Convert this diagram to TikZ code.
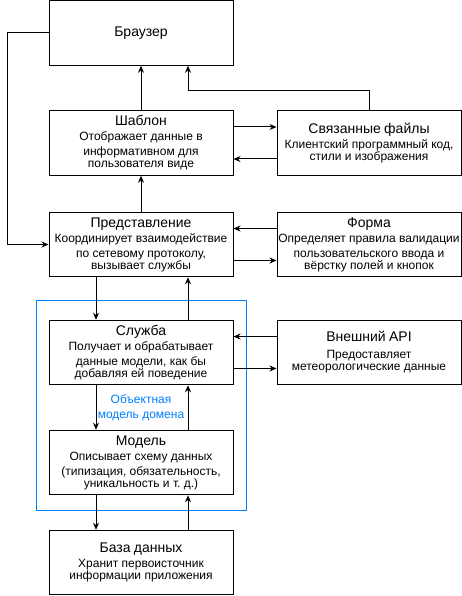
\documentclass[tikz,border=0pt]{standalone}
\usepackage{fontspec}
\setmainfont{Liberation Sans}
\usetikzlibrary{arrows.meta}
\usetikzlibrary{calc}

\newcommand{\boxtitle}{\fontsize{14}{16}\selectfont}
\newcommand{\boxdesc}{\fontsize{12}{15}\selectfont}

\begin{document}
\begin{tikzpicture}[x=1pt,y=-1pt,
        block/.style={draw,line width=1pt,minimum width=184pt,minimum height=64.5pt,
            text width=182pt,align=center,inner sep=1pt},
        arr/.style={line width=1pt,-{Stealth[length=7pt,width=6pt]}},
        domainbox/.style={draw=domainblue,line width=1pt}]
                \definecolor{domainblue}{RGB}{0,127,255}
                \useasboundingbox (0,0) rectangle (462,596);

                \draw[domainbox] (36,300) rectangle (246,510);

                \node[block] (browser) at (141,33) {\boxtitle Браузер};
                \node[block] (tmpl) at (141,143) {\boxtitle Шаблон\\
                    \boxdesc Отображает данные в\\ информативном для\\ пользователя виде};
                \node[block] (files) at (369,143) {\boxtitle Связанные файлы\\
                    \boxdesc Клиентский программный код,\\ стили и изображения};
                \node[block] (view) at (141,244.5) {\boxtitle Представление\\
                    \boxdesc Координирует взаимодействие\\ по сетевому протоколу,\\ вызывает службы};
                \node[block] (form) at (369,244.5) {\boxtitle Форма\\
                    \boxdesc Определяет правила валидации\\ пользовательского ввода и\\ вёрстку полей и кнопок};
                \node[block] (service) at (141,352.5) {\boxtitle Служба\\
                    \boxdesc Получает и обрабатывает\\ данные модели, как бы\\ добавляя ей поведение};
                \node[block] (api) at (369,352.5) {\boxtitle Внешний API\\[2pt]
                    \boxdesc Предоставляет\\ метеорологические данные};
                \node[block] (model) at (141,462.5) {\boxtitle Модель\\
                    \boxdesc Описывает схему данных\\ (типизация, обязательность,\\ уникальность и т.~д.)};
                \node[block] (db) at (141,562.5) {\boxtitle База данных\\
                    \boxdesc Хранит первоисточник\\ информации приложения};

                \node[text=domainblue,align=center,font=\boxdesc] (domain)
                    at ($(service.south)!0.5!(model.north)$) {Объектная\\ модель домена};

                % to the browser
                \draw[arr] (tmpl.north) -- (browser.south);
                \draw[arr] (files.north) |- ([xshift=47pt,yshift=-25pt]browser.south)
                    -- ([xshift=47pt]browser.south);
                \draw[arr] (browser.west) -- ++(-41pt,0pt) |- (view.west);

                % left column, up and down
                \draw[arr] (view.north) -- (tmpl.south);
                \draw[arr] ([xshift=-45pt]view.south) -- ([xshift=-45pt]service.north);
                \draw[arr] ([xshift=47pt]service.north) -- ([xshift=47pt]view.south);
                \draw[arr] ([xshift=-45pt]service.south) -- ([xshift=-45pt]model.north);
                \draw[arr] ([xshift=47pt]model.north) -- ([xshift=47pt]service.south);
                \draw[arr] ([xshift=-45pt]model.south) -- ([xshift=-45pt]db.north);
                \draw[arr] ([xshift=47pt]db.north) -- ([xshift=47pt]model.south);

                % side boxes
                \draw[arr] ([yshift=16pt]tmpl.east) -- ([yshift=16pt]files.west);
                \draw[arr] ([yshift=-16pt]files.west) -- ([yshift=-16pt]tmpl.east);
                \draw[arr] ([yshift=16pt]form.west) -- ([yshift=16pt]view.east);
                \draw[arr] ([yshift=-16pt]view.east) -- ([yshift=-16pt]form.west);
                \draw[arr] ([yshift=16pt]api.west) -- ([yshift=16pt]service.east);
                \draw[arr] ([yshift=-16pt]service.east) -- ([yshift=-16pt]api.west);
            \end{tikzpicture}
\end{document}
